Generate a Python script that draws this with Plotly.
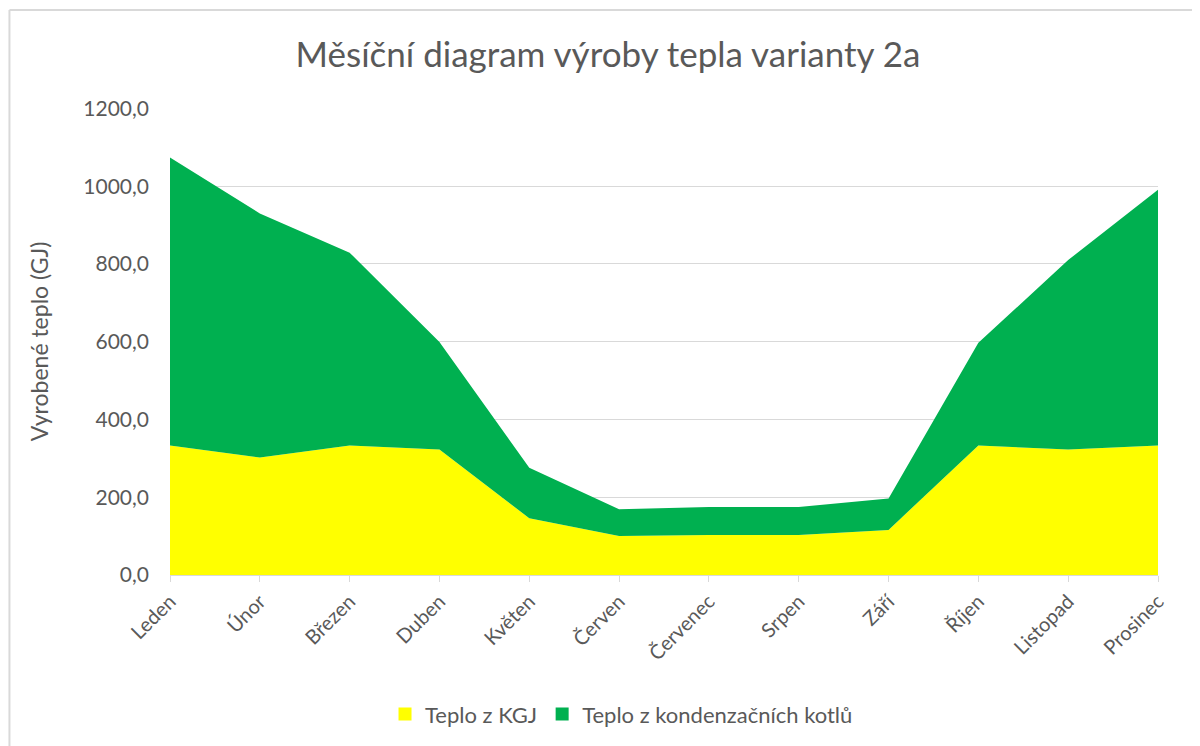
import plotly.graph_objects as go

months = ["Leden", "Únor", "Březen", "Duben", "Květen", "Červen",
          "Červenec", "Srpen", "Září", "Říjen", "Listopad", "Prosinec"]
teplo_kgj = [333, 302, 333, 323, 146, 100, 103, 103, 116, 333, 323, 333]
teplo_kotle = [741, 628, 496, 276, 130, 69, 72, 72, 81, 264, 487, 658]
y_ticks = [0, 200, 400, 600, 800, 1000, 1200]

series_names = ["Teplo z KGJ", "Teplo z kondenzačních kotlů"]
series_colors = ["#FFFF00", "#00B050"]

FONT = "Lato"
GREY = "#595959"

fig = go.Figure()
for name, vals, col in zip(series_names, [teplo_kgj, teplo_kotle], series_colors):
    fig.add_trace(go.Scatter(
        x=months, y=vals, name=name, stackgroup="one", showlegend=False,
        mode="none", fillcolor=col, line=dict(width=0)))
# legend entries with square swatches
for name, col in zip(series_names, series_colors):
    fig.add_trace(go.Scatter(
        x=[None], y=[None], name=name, mode="markers",
        marker=dict(symbol="square", size=13, color=col)))

fig.update_layout(
    width=1200, height=746,
    paper_bgcolor="white", plot_bgcolor="white",
    margin=dict(l=162, r=50, t=100, b=179),
    separators=", ",
    font=dict(family=FONT, color=GREY, size=20),
    title=dict(text="Měsíční diagram výroby tepla varianty 2a",
               x=0.5, xanchor="center", y=0.937, yanchor="middle",
               font=dict(family=FONT, size=35, color=GREY)),
    xaxis=dict(type="category", showgrid=False, range=[0, 11],
               showline=True, linecolor="#d9d9d9", linewidth=1,
               ticks="outside", ticklen=6, tickcolor="#d9d9d9",
               tickangle=-45, tickfont=dict(size=20, color=GREY)),
    yaxis=dict(range=[0, 1201], tickvals=y_ticks, tickformat=".1f",
               showgrid=True, gridcolor="#d9d9d9", gridwidth=1,
               zeroline=False, showline=False, ticks="",
               ticklabelstandoff=20,
               tickfont=dict(size=21, color=GREY),
               title=dict(text="Vyrobené teplo (GJ)", standoff=28,
                          font=dict(size=23, color=GREY))),
    legend=dict(orientation="h", x=0.457, xanchor="center", y=-0.298,
                yanchor="middle", font=dict(size=22, color=GREY),
                itemwidth=30, traceorder="normal"),
    showlegend=True,
)

# chart frame (top and left edges visible)
fig.add_shape(type="line", xref="paper", yref="paper",
              x0=-0.1625, x1=1.1, y0=1.2099, y1=1.2099,
              line=dict(color="#d9d9d9", width=2))
fig.add_shape(type="line", xref="paper", yref="paper",
              x0=-0.1625, x1=-0.1625, y0=1.2099, y1=-0.5,
              line=dict(color="#d9d9d9", width=2))

fig.write_html("out.html")
